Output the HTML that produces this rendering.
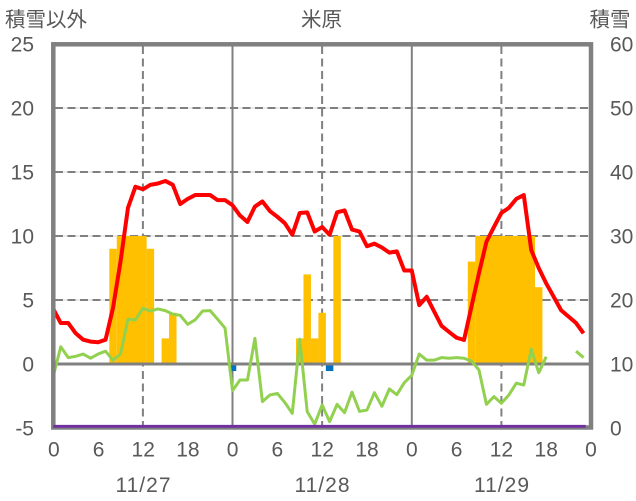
<!DOCTYPE html>
<html>
<head>
<meta charset="utf-8">
<style>
  html, body { margin:0; padding:0; background:#ffffff; }
  body { width:636px; height:501px; overflow:hidden; }
  svg { display:block; }
  text { font-family: "Liberation Sans", "Noto Sans CJK JP", sans-serif; fill:#595959; }
</style>
</head>
<body>
<svg width="636" height="501" viewBox="0 0 636 501" xmlns="http://www.w3.org/2000/svg">
  <rect x="0" y="0" width="636" height="501" fill="#ffffff"/>

  <!-- light grid underlay -->
  <g stroke="#d9d9d9" stroke-width="1">
    <line x1="53.3" y1="108" x2="591" y2="108"/>
    <line x1="53.3" y1="172" x2="591" y2="172"/>
    <line x1="53.3" y1="236" x2="591" y2="236"/>
    <line x1="53.3" y1="300" x2="591" y2="300"/>
  </g>
  <!-- dashed grid -->
  <g stroke="#808080" stroke-width="2" stroke-dasharray="8,4.5" fill="none">
    <line x1="55" y1="108" x2="591" y2="108"/>
    <line x1="55" y1="172" x2="591" y2="172"/>
    <line x1="55" y1="236" x2="591" y2="236"/>
    <line x1="55" y1="300" x2="591" y2="300"/>
    <line x1="142.9" y1="46" x2="142.9" y2="428"/>
    <line x1="322.1" y1="46" x2="322.1" y2="428"/>
    <line x1="501.4" y1="46" x2="501.4" y2="428"/>
  </g>
  <!-- day boundaries -->
  <g stroke="#808080" stroke-width="2">
    <line x1="232.5" y1="44" x2="232.5" y2="428"/>
    <line x1="411.8" y1="44" x2="411.8" y2="428"/>
  </g>

  <g transform="translate(53.3 364) scale(7.468 -12.8)">
    <!-- bars -->
    <g fill="#FFC000">
      <rect x="7.5" y="0" width="1" height="9"/>
      <rect x="8.5" y="0" width="4" height="10"/>
      <rect x="12.5" y="0" width="1" height="9"/>
      <rect x="14.5" y="0" width="1" height="2"/>
      <rect x="15.5" y="0" width="1" height="4"/>
      <rect x="32.5" y="0" width="1" height="2"/>
      <rect x="33.5" y="0" width="1" height="7"/>
      <rect x="34.5" y="0" width="1" height="2"/>
      <rect x="35.5" y="0" width="1" height="4"/>
      <rect x="37.5" y="0" width="1" height="10"/>
      <rect x="55.5" y="0" width="1" height="8"/>
      <rect x="56.5" y="0" width="8" height="10"/>
      <rect x="64.5" y="0" width="1" height="6"/>
    </g>
    <g fill="#0070C0">
      <rect x="23.5" y="-0.55" width="1" height="0.55"/>
      <rect x="36.5" y="-0.55" width="1" height="0.55"/>
    </g>
  </g>

  <!-- zero line -->
  <line x1="53.3" y1="364" x2="591" y2="364" stroke="#808080" stroke-width="3"/>

  <g transform="translate(53.3 364) scale(7.468 -12.8)" fill="none" stroke-linejoin="round" stroke-linecap="butt">
    <polyline vector-effect="non-scaling-stroke" stroke="#92D050" stroke-width="3"
      points="0,-0.94 1,1.35 2,0.5 3,0.6 4,0.78 5,0.45 6,0.78 7,1.0 8,0.3 9,0.78 10,3.5 11,3.45 12,4.35 13,4.14 14,4.3 15,4.17 16,3.9 17,3.8 18,3.1 19,3.45 20,4.14 21,4.17 22,3.5 23,2.8 24,-2.08 25,-1.25 26,-1.25 27,2.0 28,-2.94 29,-2.42 30,-2.3 31,-3.0 32,-3.86 33,1.93 34,-3.72 35,-4.7 36,-3.2 37,-4.5 38,-3.15 39,-3.8 40,-2.2 41,-3.7 42,-3.6 43,-2.24 44,-3.3 45,-1.95 46,-2.4 47,-1.46 48,-0.88 49,0.78 50,0.3 51,0.3 52,0.5 53,0.45 54,0.5 55,0.45 56,0.23 57,-0.47 58,-3.15 59,-2.55 60,-3.07 61,-2.42 62,-1.5 63,-1.64 64,1.17 65,-0.68 66,0.57"/>
    <polyline vector-effect="non-scaling-stroke" stroke="#92D050" stroke-width="3"
      points="70,1.0 71,0.5"/>
    <polyline vector-effect="non-scaling-stroke" stroke="#FF0000" stroke-width="4"
      points="0,4.3 1,3.2 2,3.2 3,2.4 4,1.9 5,1.75 6,1.7 7,1.9 8,4.4 9,8.0 10,12.2 11,13.85 12,13.65 13,14.0 14,14.1 15,14.3 16,14.0 17,12.5 18,12.9 19,13.2 20,13.2 21,13.2 22,12.8 23,12.8 24,12.4 25,11.6 26,11.1 27,12.3 28,12.7 29,11.95 30,11.5 31,11.0 32,10.1 33,11.8 34,11.85 35,10.35 36,10.7 37,10.1 38,11.85 39,12.0 40,10.5 41,10.35 42,9.2 43,9.4 44,9.1 45,8.7 46,8.8 47,7.3 48,7.3 49,4.6 50,5.25 51,4.1 52,2.97 53,2.5 54,2.05 55,1.88 56,4.5 57,7.1 58,9.55 59,10.7 60,11.8 61,12.2 62,12.9 63,13.2 64,8.9 65,7.5 66,6.3 67,5.26 68,4.2 69,3.7 70,3.2 71,2.4"/>
  </g>

  <!-- frame -->
  <rect x="53.3" y="44.3" width="537.7" height="383.2" fill="none" stroke="#808080" stroke-width="4.5"/>
  <!-- purple series -->
  <line x1="53.3" y1="426.3" x2="585.7" y2="426.3" stroke="#7030A0" stroke-width="2.8"/>

  <!-- titles -->
  <text x="5" y="26.5" font-size="20.5">積雪以外</text>
  <text x="321.5" y="26.5" font-size="20.5" text-anchor="middle">米原</text>
  <text x="589.5" y="26.5" font-size="20.5">積雪</text>

  <!-- left axis labels -->
  <g font-size="21" text-anchor="end">
    <text x="34" y="51.5">25</text>
    <text x="34" y="115.5">20</text>
    <text x="34" y="179.5">15</text>
    <text x="34" y="243.5">10</text>
    <text x="34" y="307.5">5</text>
    <text x="34" y="371.5">0</text>
    <text x="34" y="435.5">-5</text>
  </g>
  <!-- right axis labels -->
  <g font-size="21" text-anchor="start">
    <text x="610" y="51.5">60</text>
    <text x="610" y="115.5">50</text>
    <text x="610" y="179.5">40</text>
    <text x="610" y="243.5">30</text>
    <text x="610" y="307.5">20</text>
    <text x="610" y="371.5">10</text>
    <text x="610" y="435.5">0</text>
  </g>
  <!-- x hour labels -->
  <g font-size="21" text-anchor="middle">
    <text x="53.8" y="456.5">0</text>
    <text x="98.6" y="456.5">6</text>
    <text x="143.2" y="456.5">12</text>
    <text x="187.9" y="456.5">18</text>
    <text x="232.6" y="456.5">0</text>
    <text x="277.4" y="456.5">6</text>
    <text x="322.2" y="456.5">12</text>
    <text x="367" y="456.5">18</text>
    <text x="411.8" y="456.5">0</text>
    <text x="456.6" y="456.5">6</text>
    <text x="501.4" y="456.5">12</text>
    <text x="546.2" y="456.5">18</text>
    <text x="591" y="456.5">0</text>
  </g>
  <!-- date labels -->
  <g font-size="21" text-anchor="middle" letter-spacing="1">
    <text x="143.5" y="492">11/27</text>
    <text x="322.5" y="492">11/28</text>
    <text x="502" y="492">11/29</text>
  </g>
</svg>
</body>
</html>
